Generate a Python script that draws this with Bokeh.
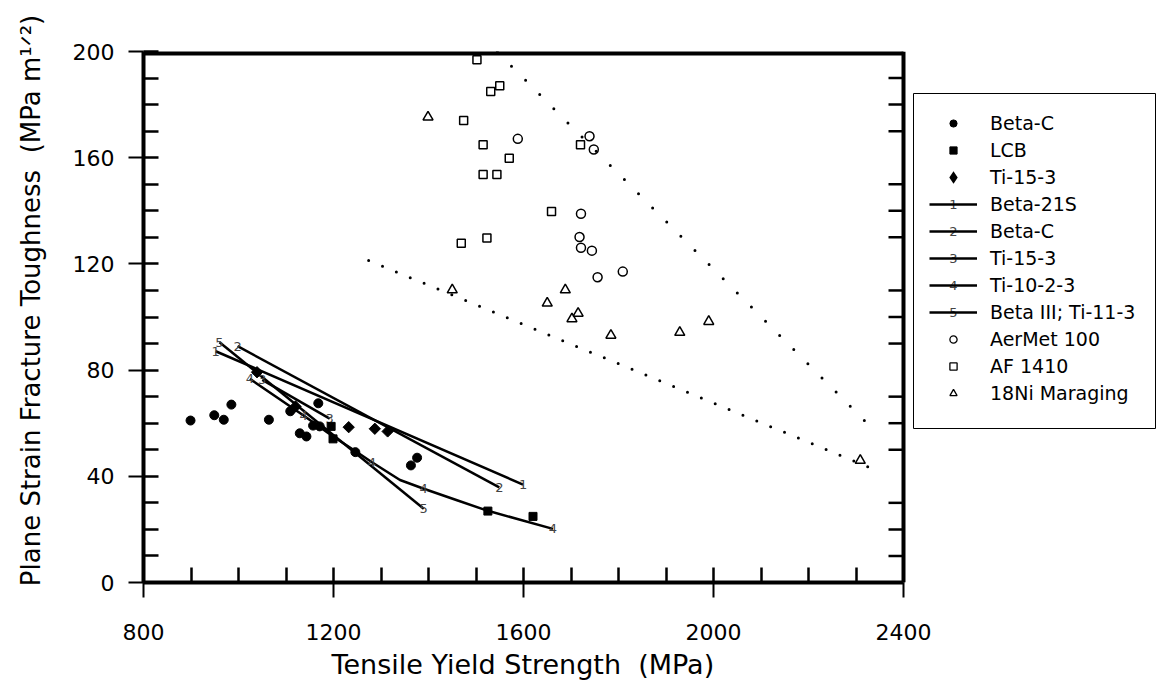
import math
from bokeh.plotting import figure
from bokeh.models import Range1d, FixedTicker, Legend, LegendItem, Title
from bokeh.embed import file_html
from bokeh.resources import INLINE
from bokeh.core.properties import value

FONT = "DejaVu Sans"
NAN = float("nan")
NB = "\u00a0"

# ---------------- data ----------------
betac_x = [899, 949, 969, 985, 1064, 1109, 1129, 1143, 1157, 1168, 1171, 1246, 1363, 1376]
betac_y = [61.0, 63.0, 61.3, 67.0, 61.3, 64.5, 56.2, 55.0, 59.1, 67.5, 58.8, 49.1, 44.1, 47.0]

lcb_x = [1195, 1199, 1525, 1620]
lcb_y = [58.8, 54.1, 26.9, 24.9]

ti153_x = [1039, 1120, 1232, 1287, 1314]
ti153_y = [79.2, 66.3, 58.5, 57.9, 56.9]

beta21s_x = [952, 1599]
beta21s_y = [87.1, 36.9]
betac_fit_x = [998, 1549]
betac_fit_y = [89.0, 35.8]
ti153_fit_x = [1050, 1192]
ti153_fit_y = [76.3, 61.7]
ti1023_x = [1024, 1137, 1199, 1246, 1281, 1340, 1390, 1460, 1525, 1662]
ti1023_y = [76.7, 62.9, 55.0, 49.5, 45.3, 38.6, 35.3, 31.0, 27.0, 20.2]
ti1023_label_idx = [0, 1, 4, 6, 9]
beta3_x = [960, 1390]
beta3_y = [90.5, 27.8]

aermet_x = [1588, 1739, 1748, 1721, 1718, 1721, 1744, 1756, 1809]
aermet_y = [167.1, 168.1, 163.1, 138.9, 130.1, 126.1, 125.0, 115.0, 117.1]

af1410_x = [1502, 1531, 1550, 1474, 1515, 1720, 1570, 1515, 1544, 1659, 1523, 1469]
af1410_y = [196.9, 184.9, 187.1, 174.0, 164.9, 164.9, 159.8, 153.7, 153.7, 139.7, 129.8, 127.8]

maraging_x = [1399, 1450, 1688, 1650, 1715, 1702, 1784, 1929, 1990, 2309]
maraging_y = [175.3, 110.2, 110.2, 105.2, 101.4, 99.3, 93.1, 94.2, 98.3, 46.0]

upper_trend_x = [1545, 2330]
upper_trend_y = [199.8, 58.8]
lower_trend_x = [1274, 2330]
lower_trend_y = [121.3, 43.2]

x_major = [800, 1200, 1600, 2000, 2400]
x_minor = list(range(800, 2401, 100))
y_major = [0, 40, 80, 120, 160, 200]
y_minor = list(range(0, 201, 10))

x_title = "Tensile Yield Strength" + NB + NB + "(MPa)"
y_title = "Plane Strain Fracture Toughness" + NB + NB + "(MPa" + NB + "m¹ᐟ²)"

legend_labels = ["Beta-C", "LCB", "Ti-15-3", "Beta-21S", "Beta-C", "Ti-15-3",
                 "Ti-10-2-3", "Beta III; Ti-11-3", "AerMet 100", "AF 1410", "18Ni Maraging"]
legend_kinds = ["circle_f", "square_f", "diamond_f", "1", "2", "3", "4", "5",
                "circle_o", "square_o", "triangle_o"]

# ---------------- layout constants (pixels) ----------------
W, H = 1158, 690
FL, FT, FB = 143, 51, 108          # frame left / top / bottom borders
FR = 1                              # right border; the legend lives inside the wide frame
PLOT_W = 760                        # pixel width of the 800..2400 data area
frame_w = W - FL - FR
frame_h = H - FT - FB
x_lo, x_hi = x_major[0], x_major[-1]
y_lo, y_hi = y_major[0], y_major[-1]
x_end = x_lo + (x_hi - x_lo) * frame_w / PLOT_W

def px_to_x(px):
    return x_lo + px * (x_hi - x_lo) / PLOT_W

def px_to_y(py_from_bottom):
    return y_lo + py_from_bottom * (y_hi - y_lo) / frame_h

p = figure(width=W, height=H, output_backend="svg", toolbar_location=None,
           x_range=Range1d(x_lo, x_end), y_range=Range1d(y_lo, y_hi),
           min_border_left=FL, min_border_right=FR, min_border_top=FT, min_border_bottom=FB,
           y_axis_label=NB * 4 + y_title)
p.grid.visible = False
p.outline_line_color = None
p.background_fill_color = "white"
p.border_fill_color = "white"

for ax, maj, mn, bnd in ((p.xaxis[0], x_major, x_minor, (x_lo, x_hi)),
                         (p.yaxis[0], y_major, y_minor, (y_lo, y_hi))):
    ax.ticker = FixedTicker(ticks=maj, minor_ticks=mn)
    ax.bounds = bnd
    ax.axis_line_width = 4
    ax.major_tick_in = 0
    ax.major_tick_out = 15
    ax.minor_tick_in = 15
    ax.minor_tick_out = 0
    ax.major_tick_line_width = 2
    ax.minor_tick_line_width = 2.5
    ax.major_label_text_font = FONT
    ax.major_label_text_font_size = "22px"
    ax.major_label_text_color = "black"
    ax.axis_label_text_font = FONT
    ax.axis_label_text_font_style = "normal"
    ax.axis_label_text_color = "black"
p.yaxis[0].axis_label_text_font_size = "26px"
p.xaxis[0].major_label_standoff = 26
p.yaxis[0].major_label_standoff = 14
p.yaxis[0].axis_label_standoff = 24

# x-axis title, centred under the 800..2400 data box (not the whole frame)
X_TITLE_START = 188
p.add_layout(Title(text=x_title, align="left", offset=X_TITLE_START, standoff=12,
                   vertical_align="top", text_font=FONT, text_font_size="27px",
                   text_font_style="normal", text_color="black"), "below")

# top and right spines of the data box, with the right spine's inward minor ticks
p.line([x_lo, x_hi], [y_hi] * 2, line_color="black", line_width=8)
p.line([x_hi, x_hi], [y_lo, y_hi], line_color="black", line_width=4)
right_minor = [v for v in y_minor if v not in y_major]
p.ray(x=[x_hi] * len(right_minor), y=right_minor, length=15, length_units="screen",
      angle=math.pi, line_color="black", line_width=2.5)

# dotted trend lines
p.line(upper_trend_x, upper_trend_y, line_color="black", line_width=3,
       line_dash="0 20", line_cap="round")
p.line(lower_trend_x, lower_trend_y, line_color="black", line_width=3,
       line_dash="0 15", line_cap="round")

# numbered fit lines
LBL = dict(text_font=value(FONT), text_font_size="13px", text_align="center",
           text_baseline="middle", text_color="#444444")
fits = [(beta21s_x, beta21s_y, "1", [0, 1]),
        (betac_fit_x, betac_fit_y, "2", [0, 1]),
        (ti153_fit_x, ti153_fit_y, "3", [0, 1]),
        (ti1023_x, ti1023_y, "4", ti1023_label_idx),
        (beta3_x, beta3_y, "5", [0, 1])]
for fx, fy, num, idx in fits:
    p.line(fx, fy, line_color="black", line_width=2.5)
for fx, fy, num, idx in fits:
    p.text([fx[i] for i in idx], [fy[i] for i in idx], text=[num] * len(idx), **LBL)

# markers
p.scatter(betac_x, betac_y, marker="circle", size=9, color="black")
p.scatter(lcb_x, lcb_y, marker="square", size=8, color="black")
p.scatter(ti153_x, ti153_y, marker="square", angle=0.7854, size=8, color="black")
p.scatter(aermet_x, aermet_y, marker="circle", size=9, fill_color=None,
          line_color="black", line_width=1.5)
p.scatter(af1410_x, af1410_y, marker="square", size=8, fill_color=None,
          line_color="black", line_width=1.5)
p.scatter(maraging_x, maraging_y, marker="triangle", size=10, fill_color=None,
          line_color="black", line_width=1.5)

# ---------------- legend ----------------
items = []
for lab, kind in zip(legend_labels, legend_kinds):
    if kind == "circle_f":
        r = p.scatter([NAN], [NAN], marker="circle", color="black")
    elif kind == "square_f":
        r = p.scatter([NAN], [NAN], marker="square", color="black")
    elif kind == "diamond_f":
        r = p.scatter([NAN], [NAN], marker="diamond", color="black", line_width=3,
                      line_join="miter")
    elif kind == "circle_o":
        r = p.scatter([NAN], [NAN], marker="circle", fill_color=None,
                      line_color="black", line_width=1.3)
    elif kind == "square_o":
        r = p.scatter([NAN], [NAN], marker="square", fill_color=None,
                      line_color="black", line_width=1.3)
    elif kind == "triangle_o":
        r = p.scatter([NAN], [NAN], marker="triangle", fill_color=None,
                      line_color="black", line_width=1.3)
    else:
        r = p.line([NAN, NAN], [NAN, NAN], line_color="black", line_width=2.5)
    items.append(LegendItem(label=lab, renderers=[r]))

# the legend draws no border of its own (so no inner padding); its box is a quad below
PAD, GW, GH, ROWH, SPACING = 16, 48, 18, 23, 4
LEG_LEFT, LEG_TOP = 770, 44        # box-relative origin, px from the frame's left / top edge
BOX_TOP, BOX_BOTTOM, BOX_W = 42, 377, 242   # legend frame box, px from frame top / width
n_items = len(items)
leg_h = n_items * ROWH + (n_items - 1) * SPACING
legend = Legend(items=items,
                location=(LEG_LEFT + PAD, frame_h - (LEG_TOP + PAD) - leg_h),
                orientation="vertical", padding=0, spacing=SPACING,
                glyph_width=GW, glyph_height=GH, label_height=ROWH, label_standoff=13,
                label_width=150,
                label_text_font=FONT, label_text_font_size="19px",
                label_text_color="black", border_line_color=None,
                background_fill_color=None, margin=0)

# legend frame box
p.quad(left=[px_to_x(LEG_LEFT)], right=[px_to_x(LEG_LEFT + BOX_W)],
       top=[px_to_y(frame_h - BOX_TOP)], bottom=[px_to_y(frame_h - BOX_BOTTOM)],
       fill_color="white", line_color="black", line_width=1)

# the curve numbers on the legend's line samples (drawn beneath the transparent legend)
num_kinds = [k for k in legend_kinds if k.isdigit()]
num_rows = [i for i, k in enumerate(legend_kinds) if k.isdigit()]
num_x = [px_to_x(LEG_LEFT + PAD + GW / 2)] * len(num_rows)
num_y = [px_to_y(frame_h - (LEG_TOP + PAD + ROWH / 2 + i * (ROWH + SPACING))) for i in num_rows]
p.text(num_x, num_y, text=num_kinds, **LBL)

p.add_layout(legend, "center")

open("out.html", "w").write(file_html(p, INLINE))
